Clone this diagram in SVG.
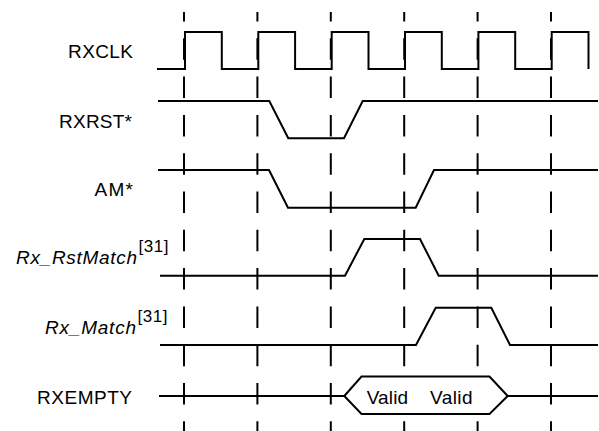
<svg xmlns="http://www.w3.org/2000/svg" width="599" height="431" viewBox="0 0 599 431">
<style>
.lbl{font-family:"Liberation Sans",Arial,Helvetica,sans-serif;font-size:19px;fill:#000}
.it{font-style:italic}
.sup{font-size:17px}
.sig{fill:none;stroke:#000;stroke-width:2;stroke-linejoin:miter}
.bus{fill:#fff;stroke:#000;stroke-width:2}
.grid{stroke:#000;stroke-width:2;stroke-dasharray:0 12 9.5 16.8 21.5 16.8 21.5 16.8 21.5 16.8 21.5 16.8 21.5 16.8 21.5 16.8 21.5 16.8 21.5 16.8 21.5 16.8 21.5 16.8 21.5 16.8}
</style>
<rect width="599" height="431" fill="#fff"/>
<g id="gridlines">
<line class="grid" x1="184" y1="0" x2="184" y2="431"/>
<line class="grid" x1="257.4" y1="0" x2="257.4" y2="431"/>
<line class="grid" x1="330.8" y1="0" x2="330.8" y2="431"/>
<line class="grid" x1="404.2" y1="0" x2="404.2" y2="431"/>
<line class="grid" x1="477.6" y1="0" x2="477.6" y2="431"/>
<line class="grid" x1="551" y1="0" x2="551" y2="431"/>
</g>
<g id="RXCLK">
<text class="lbl" x="133" y="58" text-anchor="end" textLength="65" lengthAdjust="spacing">RXCLK</text>
<polyline class="sig" points="157,69 185,69 185,32 221.8,32 221.8,69 258.3,69 258.3,32 295.1,32 295.1,69 331.7,69 331.7,32 368.5,32 368.5,69 405,69 405,32 441.8,32 441.8,69 478.4,69 478.4,32 515.2,32 515.2,69 551.7,69 551.7,32 588.5,32 588.5,69"/>
</g>
<g id="RXRST">
<text class="lbl" x="132" y="128" text-anchor="end" textLength="73" lengthAdjust="spacing">RXRST*</text>
<polyline class="sig" points="158,101 269.3,101 288.3,138.3 344,138.3 362.7,101 598,101"/>
</g>
<g id="AM">
<text class="lbl" x="133" y="196" text-anchor="end" textLength="38.5" lengthAdjust="spacing">AM*</text>
<polyline class="sig" points="158,170 269,170 288,207.7 415.7,207.7 434,170 598,170"/>
</g>
<g id="Rx_RstMatch">
<text class="lbl it" x="16" y="263.5" textLength="121" lengthAdjust="spacing">Rx_RstMatch</text>
<text class="lbl sup" x="138.5" y="251.5" textLength="30" lengthAdjust="spacing">[31]</text>
<polyline class="sig" points="160,275.7 345,275.7 364.3,239 420,239 438.7,275.7 598,275.7"/>
</g>
<g id="Rx_Match">
<text class="lbl it" x="45" y="333.5" textLength="91" lengthAdjust="spacing">Rx_Match</text>
<text class="lbl sup" x="137.5" y="321.5" textLength="30" lengthAdjust="spacing">[31]</text>
<polyline class="sig" points="160,345 416,345 435.7,307.7 491.3,307.7 510,345 598,345"/>
</g>
<g id="RXEMPTY">
<text class="lbl" x="132" y="404" text-anchor="end" textLength="95" lengthAdjust="spacing">RXEMPTY</text>
<polyline class="sig" points="159,396 344.3,396"/>
<polygon class="bus" points="344.3,396 361.5,376.5 489.5,376.5 507.7,396 489.5,414 361.5,414"/>
<polyline class="sig" points="507.7,396 598,396"/>
<text class="lbl" x="366.7" y="404" textLength="41.5" lengthAdjust="spacing">Valid</text>
<text class="lbl" x="430" y="404" textLength="42.5" lengthAdjust="spacing">Valid</text>
</g>
</svg>
